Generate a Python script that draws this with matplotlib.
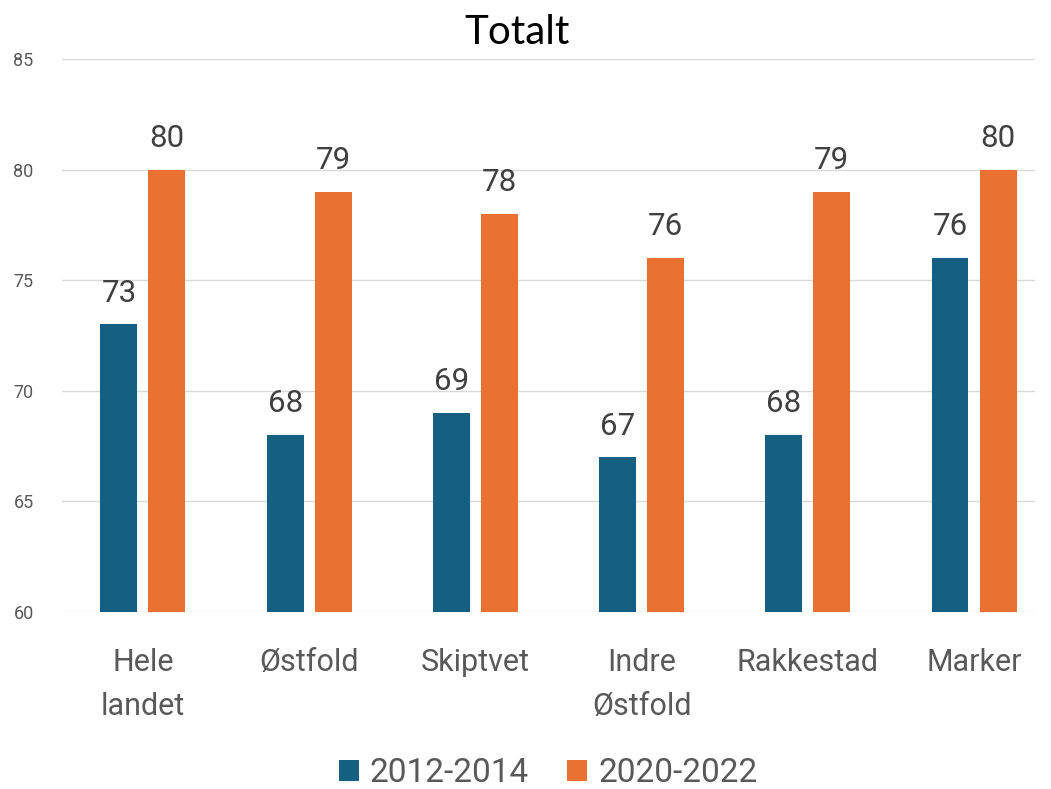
import matplotlib
matplotlib.use("Agg")
import matplotlib.pyplot as plt
import numpy as np

categories = ["Hele\nlandet", "Østfold", "Skiptvet", "Indre\nØstfold", "Rakkestad", "Marker"]
series_names = ["2012-2014", "2020-2022"]
values_2012 = [73, 68, 69, 67, 68, 76]
values_2020 = [80, 79, 78, 76, 79, 80]
yticks = [60, 65, 70, 75, 80, 85]
title = "Totalt"

colors = ["#156082", "#E97132"]
plt.rcParams['font.family'] = ['Roboto', 'DejaVu Sans']

fig = plt.figure(figsize=(10.51, 7.89), dpi=100)
ax = fig.add_axes([62/1051, 1-612/789, (1035-62)/1051, (612-59)/789])

x = np.arange(len(categories))
w = 0.2226
off = 0.1444
for vals, name, c, o in [(values_2012, series_names[0], colors[0], -off),
                         (values_2020, series_names[1], colors[1], off)]:
    ax.bar(x + o, [v - 60 for v in vals], w, bottom=60, color=c, label=name, zorder=3)
    for xi, v in zip(x, vals):
        ax.text(xi + o, v + 0.75, str(v), ha='center', va='bottom', fontsize=22.5, color='#404040')

ax.set_xlim(-0.487, 5.367)
ax.set_ylim(60, 85)
ax.set_yticks(yticks)
ax.set_yticklabels([str(t) for t in yticks], fontsize=13, color='#595959')
ax.set_xticks(x)
ax.set_xticklabels(categories, fontsize=22, color='#595959', linespacing=1.65)
ax.tick_params(axis='both', length=0)
ax.tick_params(axis='x', pad=26)
ax.tick_params(axis='y', pad=35)
for s in ax.spines.values():
    s.set_visible(False)
ax.grid(axis='y', color='#D9D9D9', linewidth=1, zorder=0)
for lab in ax.get_yticklabels():
    lab.set_horizontalalignment('left')

fig.text(517.5/1051, 1-32/789, title, ha='center', va='center', fontsize=29, color='black',
         family=['Lato', 'DejaVu Sans'])
fig.legend(loc='center', bbox_to_anchor=(548/1051, 1-773/789), ncol=2, frameon=False,
           fontsize=24, handlelength=0.6, handleheight=0.6, columnspacing=1.15,
           handletextpad=0.33, labelcolor='#595959')

fig.savefig("out.png", dpi=100)
